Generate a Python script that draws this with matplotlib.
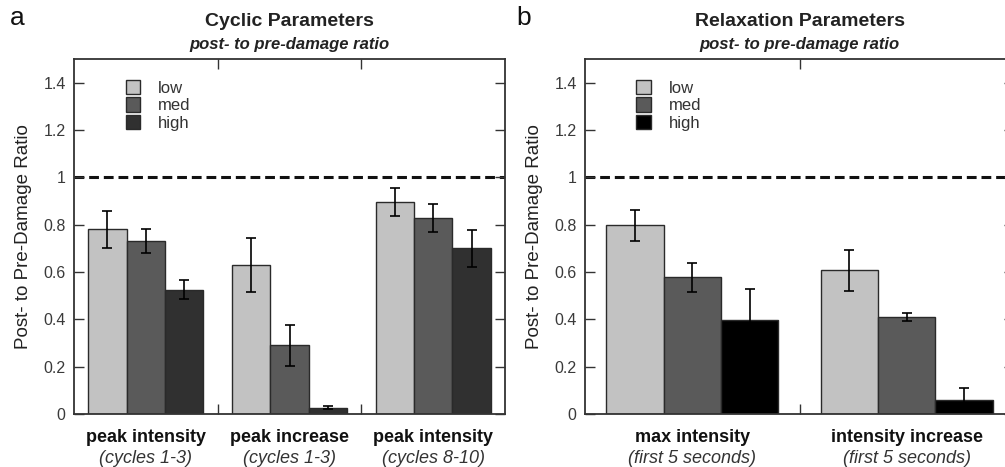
import matplotlib.pyplot as plt
import matplotlib.patches as mpatches
from matplotlib.transforms import blended_transform_factory
import numpy as np

plt.rcParams['font.family'] = ['Liberation Sans', 'DejaVu Sans']

# Data
levels = ["low", "med", "high"]

cyc_groups = ["peak intensity", "peak increase", "peak intensity"]
cyc_sub = ["(cycles 1-3)", "(cycles 1-3)", "(cycles 8-10)"]
cyc_low = [0.78, 0.63, 0.895]
cyc_med = [0.73, 0.29, 0.828]
cyc_high = [0.525, 0.027, 0.70]
cyc_low_err = [0.077, 0.113, 0.06]
cyc_med_err = [0.05, 0.086, 0.058]
cyc_high_err = [0.04, 0.006, 0.078]

rel_groups = ["max intensity", "intensity increase"]
rel_sub = ["(first 5 seconds)", "(first 5 seconds)"]
rel_low = [0.797, 0.607]
rel_med = [0.577, 0.41]
rel_high = [0.398, 0.058]
rel_low_err = [0.066, 0.087]
rel_med_err = [0.061, 0.018]
rel_high_err = [0.13, 0.05]

cyc_colors = ["#c2c2c2", "#5a5a5a", "#303030"]
rel_colors = ["#c2c2c2", "#5a5a5a", "#000000"]

W, H = 1005, 467
fig = plt.figure(figsize=(W / 100, H / 100), dpi=100)

ax1 = fig.add_axes([74 / W, 53 / H, 431 / W, 355 / H])
ax2 = fig.add_axes([585 / W, 53 / H, 429 / W, 355 / H])

bw = 0.267
tick_col = "#3a3a3a"


def draw_panel(ax, groups, subs, vals, errs, colors, title, letter, letter_x):
    x = np.arange(len(groups))
    for i, (v, e) in enumerate(zip(vals, errs)):
        ax.bar(x + (i - 1) * bw, v, bw, color=colors[i], edgecolor="#2a2a2a",
               linewidth=1.0, zorder=2, label=levels[i])
        ax.errorbar(x + (i - 1) * bw, v, yerr=e, fmt="none", ecolor="black",
                    elinewidth=1.2, capsize=3.5, capthick=1.2, zorder=3)
    ax.axhline(1.0, color="#111111", lw=2.2, ls=(0, (3.2, 1.6)), zorder=1)
    ax.set_xlim(-0.5, len(groups) - 0.5)
    ax.set_ylim(0, 1.5)
    ax.set_yticks(np.arange(0, 1.41, 0.2))
    ax.set_yticklabels(["%g" % round(t, 1) for t in np.arange(0, 1.41, 0.2)],
                       fontsize=11.5, color=tick_col)
    ax.set_xticks(np.arange(len(groups) - 1) + 0.5)
    ax.set_xticklabels([])
    ax.tick_params(axis="both", direction="in", length=7, width=1.0,
                   color="#333333", top=True, right=True, pad=6)
    for s in ax.spines.values():
        s.set_color("#333333")
        s.set_linewidth(1.3)
    ax.set_ylabel("Post- to Pre-Damage Ratio", fontsize=13.5, color="#222222",
                  labelpad=8)
    tr = blended_transform_factory(ax.transData, ax.transAxes)
    for xi, g, s in zip(x, groups, subs):
        ax.text(xi, -0.065, g, transform=tr, ha="center", va="center",
                fontsize=13, fontweight="bold", color="#111111")
        ax.text(xi, -0.125, s, transform=tr, ha="center", va="center",
                fontsize=13, style="italic", color="#333333")
    cx = (ax.get_position().x0 + ax.get_position().x1) / 2
    fig.text(cx, 1 - 21 / H, title, ha="center", va="center", fontsize=14,
             fontweight="bold", color="#222222")
    fig.text(cx, 1 - 44 / H, "post- to pre-damage ratio", ha="center",
             va="center", fontsize=12, fontweight="bold", style="italic",
             color="#222222")
    fig.text(letter_x, 1 - 18 / H, letter, ha="left", va="center",
             fontsize=19, color="#111111")
    handles = [mpatches.Patch(facecolor=c, edgecolor="#2a2a2a", lw=1.0)
               for c in colors]
    ax.legend(handles, levels, loc="upper left",
              bbox_to_anchor=(45 / 431, 0.96), frameon=False, fontsize=12,
              handlelength=0.85, handleheight=0.95, handletextpad=1.1,
              labelspacing=0.1, borderaxespad=0, labelcolor="#333333")


draw_panel(ax1, cyc_groups, cyc_sub,
           [cyc_low, cyc_med, cyc_high],
           [cyc_low_err, cyc_med_err, cyc_high_err],
           cyc_colors, "Cyclic Parameters", "a", 10 / W)
draw_panel(ax2, rel_groups, rel_sub,
           [rel_low, rel_med, rel_high],
           [rel_low_err, rel_med_err, rel_high_err],
           rel_colors, "Relaxation Parameters", "b", 516 / W)

fig.savefig("out.png", dpi=100)
